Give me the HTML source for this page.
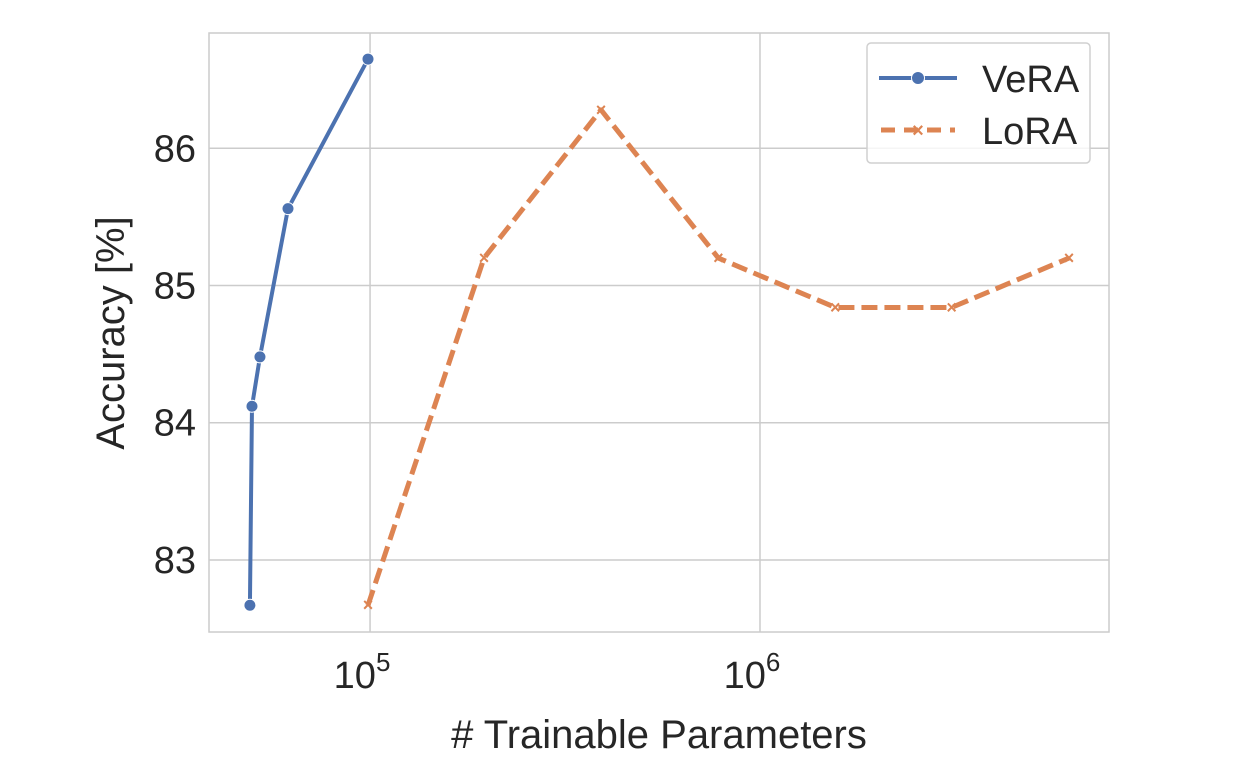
<!DOCTYPE html>
<html><head><meta charset="utf-8"><style>
body{margin:0;background:#fff;}
svg text{font-family:"Liberation Sans",sans-serif;fill:#262626;}
</style></head><body>
<svg id="chart" width="1258" height="769">
<g id="grid"></g><g id="series"></g><g id="axes"></g>
<rect x="209" y="33" width="900" height="599" fill="none" stroke="#cccccc" stroke-width="1.5"/>
<text transform="translate(124,333) rotate(-90)" text-anchor="middle" font-size="40">Accuracy [%]</text>
<text x="659" y="748" text-anchor="middle" font-size="40"># Trainable Parameters</text>
<g>
<rect x="867" y="43" width="223" height="120" rx="4" fill="#fff" fill-opacity="0.8" stroke="#d0d0d0" stroke-width="1.5"/>
<line x1="879" y1="78" x2="957" y2="78" stroke="#4c72b0" stroke-width="4"/>
<circle cx="918" cy="78" r="6.5" fill="#4c72b0" stroke="#fff" stroke-width="1"/>
<text x="982" y="92" font-size="38">VeRA</text>
<line x1="881" y1="130" x2="955" y2="130" stroke="#dd8452" stroke-width="5" stroke-dasharray="14,9"/>
<text x="918" y="137" text-anchor="middle" font-size="20" font-weight="bold" style="fill:#dd8452">×</text>
<text x="982" y="144" font-size="38">LoRA</text>
</g>
</svg>
<script>
const yTicks=[83,84,85,86];
const xTicks=[5,6];
const veraParams=[49200,49800,52200,61600,98800];
const veraAcc=[82.67,84.12,84.48,85.56,86.65];
const loraParams=[98800,196000,391000,782000,1560000,3100000,6200000];
const loraAcc=[82.67,85.2,86.28,85.2,84.84,84.84,85.2];
const X0=209,X1=1109,Y0=632,Y1=33,LMIN=4.587,LMAX=6.895,AMIN=82.475,AMAX=86.84;
const ns="http://www.w3.org/2000/svg";
function xs(v){return X0+(Math.log10(v)-LMIN)/(LMAX-LMIN)*(X1-X0);}
function xl(l){return X0+(l-LMIN)/(LMAX-LMIN)*(X1-X0);}
function ys(v){return Y0-(v-AMIN)/(AMAX-AMIN)*(Y0-Y1);}
function mk(t,a,p){const e=document.createElementNS(ns,t);for(const k in a)e.setAttribute(k,a[k]);p.appendChild(e);return e;}
const grid=document.getElementById('grid'),axes=document.getElementById('axes'),ser=document.getElementById('series');
yTicks.forEach(v=>{
 const l=mk('line',{x1:X0,x2:X1,y1:ys(v),y2:ys(v),stroke:'#cccccc','stroke-width':1.5},grid);
 
 
 const t=mk('text',{x:196,y:ys(v)+13,'text-anchor':'end','font-size':38},axes);
 t.textContent=v;
 
 
});
xTicks.forEach(v=>{
 const l=mk('line',{x1:xl(v),x2:xl(v),y1:Y1,y2:Y0,stroke:'#cccccc','stroke-width':1.5},grid);
 
 
 const t=mk('text',{x:xl(v)-8,y:688,'text-anchor':'middle','font-size':38},axes);
 t.textContent='10';
 const s=mk('tspan',{dy:-17,'font-size':26},t);s.textContent=v;
 
 
});
const vp=mk('polyline',{points:veraParams.map((p,i)=>xs(p)+','+ys(veraAcc[i])).join(' '),fill:'none',stroke:'#4c72b0','stroke-width':4,'stroke-linejoin':'round'},ser);


veraParams.forEach((p,i)=>{
 const c=mk('circle',{cx:xs(p),cy:ys(veraAcc[i]),r:6,fill:'#4c72b0',stroke:'#fff','stroke-width':1},ser);
 
 
});
const lp=mk('polyline',{points:loraParams.map((p,i)=>xs(p)+','+ys(loraAcc[i])).join(' '),fill:'none',stroke:'#dd8452','stroke-width':5,'stroke-dasharray':'16,7','stroke-linejoin':'round'},ser);


loraParams.forEach((p,i)=>{
 const t=mk('text',{x:xs(p),y:ys(loraAcc[i])+6,'text-anchor':'middle','font-size':18,'font-weight':'bold',style:'fill:#dd8452'},ser);
 t.textContent='×';
 
 
});
</script>
</body></html>
